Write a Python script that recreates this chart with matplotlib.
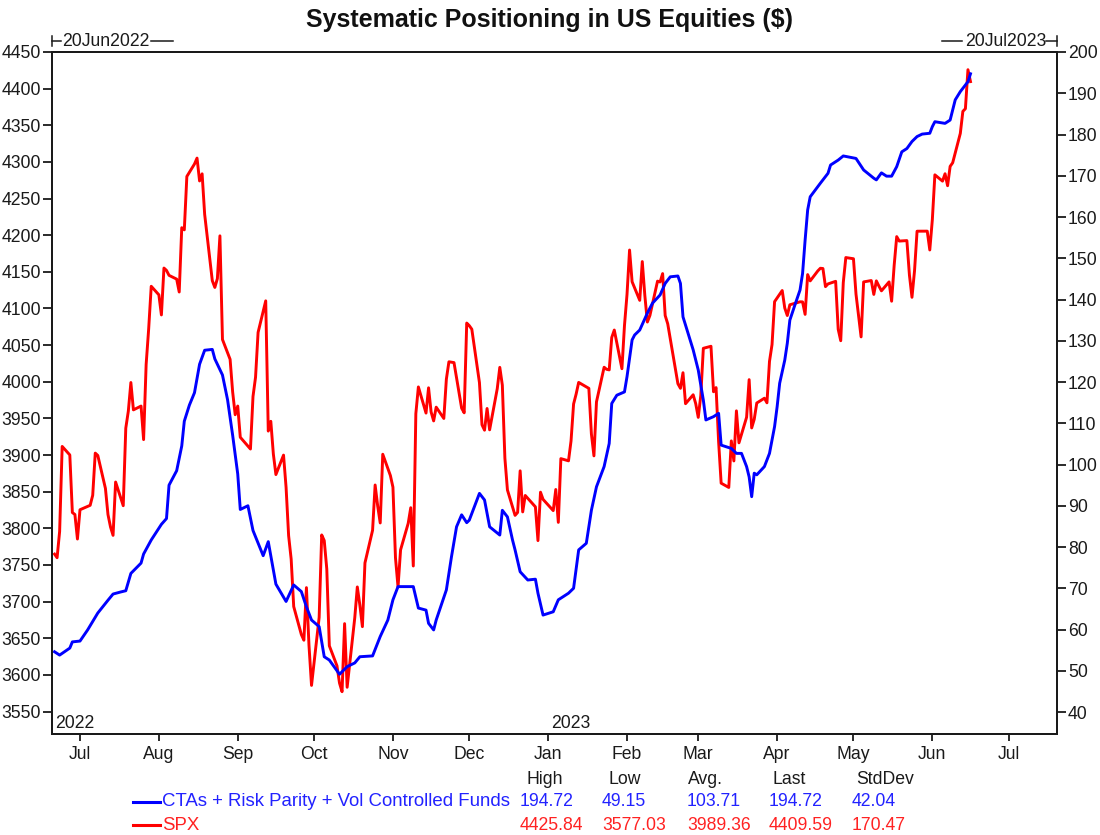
import matplotlib
matplotlib.use("Agg")
import matplotlib.pyplot as plt
import matplotlib.dates as mdates
from matplotlib.lines import Line2D
import numpy as np
import pandas as pd

W, H = 1100, 835

# SPX daily closes, 21 Jun 2022 .. 16 Jun 2023 (one line per month)
spx_close = [
    3764.79, 3759.89, 3795.73, 3911.74, 3900.11, 3821.55, 3818.83, 3785.38,
    3825.33, 3831.39, 3845.08, 3902.62, 3899.38, 3854.43, 3818.80, 3801.78, 3790.38, 3863.16,
    3830.85, 3936.69, 3959.90, 3998.95, 3961.63, 3966.84, 3921.05, 4023.61, 4072.43, 4130.29,
    4118.63, 4091.19, 4155.17, 4151.94, 4145.19, 4140.06, 4122.47, 4210.24, 4207.27, 4280.15,
    4297.14, 4305.20, 4274.04, 4283.74, 4228.48, 4137.99, 4128.73, 4140.77, 4199.12, 4057.66,
    4030.61, 3986.16, 3955.00,
    3966.85, 3924.26, 3908.19, 3979.87, 4006.18, 4067.36, 4110.41, 3932.69, 3946.01, 3901.35,
    3873.33, 3899.89, 3855.93, 3789.93, 3757.99, 3693.23, 3655.04, 3647.29, 3719.04, 3640.47,
    3585.62,
    3678.43, 3790.93, 3783.28, 3744.52, 3639.66, 3612.39, 3588.84, 3577.03, 3669.91, 3583.07,
    3677.95, 3719.98, 3695.16, 3665.78, 3752.75, 3797.34, 3859.11, 3830.60, 3807.30, 3901.06,
    3871.98,
    3856.10, 3759.69, 3719.89, 3770.55, 3806.80, 3828.11, 3748.57, 3956.37, 3992.93, 3957.25,
    3991.73, 3958.79, 3946.56, 3965.34, 3949.94, 4003.58, 4027.26, 4026.12, 3963.94, 3957.63,
    4080.11,
    4076.57, 4071.70, 3998.84, 3941.26, 3933.92, 3963.51, 3934.38, 3990.56, 4019.65, 3995.32,
    3895.75, 3852.36, 3817.66, 3821.62, 3878.44, 3822.39, 3844.82, 3829.25, 3783.22, 3849.28,
    3839.50,
    3824.14, 3852.97, 3808.10, 3895.08, 3892.09, 3919.25, 3969.61, 3983.17, 3999.09, 3990.97,
    3928.86, 3898.85, 3972.61, 4019.81, 4016.95, 4016.22, 4060.43, 4070.56, 4017.77, 4076.60,
    4119.21, 4179.76, 4136.48, 4111.08, 4164.00, 4117.86, 4081.50, 4090.46, 4137.29, 4136.13,
    4147.60, 4090.41, 4079.09, 3997.34, 3991.05, 4012.32, 3970.04, 3982.24, 3970.15,
    3951.39, 3981.35, 4045.64, 4048.42, 3986.37, 3992.01, 3918.32, 3861.59, 3855.76, 3919.29,
    3891.93, 3960.28, 3916.64, 3951.57, 4002.87, 3936.97, 3948.72, 3970.99, 3977.53, 3971.27,
    4027.81, 4050.83, 4109.31,
    4124.51, 4100.60, 4090.38, 4105.02, 4109.11, 4108.94, 4091.95, 4146.22, 4137.64, 4151.32,
    4154.87, 4154.52, 4129.79, 4133.52, 4137.04, 4071.63, 4055.99, 4135.35, 4169.48,
    4167.87, 4119.58, 4090.75, 4061.22, 4136.25, 4138.12, 4119.17, 4137.64, 4130.62, 4124.08,
    4136.28, 4109.90, 4158.77, 4198.05, 4191.98, 4192.63, 4145.58, 4115.24, 4151.28, 4205.45,
    4205.52, 4179.83,
    4221.02, 4282.37, 4273.79, 4283.85, 4267.52, 4293.93, 4298.86, 4338.93, 4369.01, 4372.59,
    4425.84, 4409.59,
]
market_holidays = ["2022-07-04", "2022-09-05", "2022-11-24", "2022-12-26", "2023-01-02",
                   "2023-01-16", "2023-02-20", "2023-04-07", "2023-05-29"]

# CTAs + Risk Parity + Vol Controlled Funds positioning ($bn)
blue_dates = [
    "2022-06-21", "2022-06-23", "2022-06-27", "2022-06-28", "2022-07-01", "2022-07-04",
    "2022-07-08", "2022-07-12", "2022-07-14", "2022-07-17", "2022-07-19", "2022-07-21",
    "2022-07-25", "2022-07-26", "2022-07-29", "2022-08-02", "2022-08-04", "2022-08-05",
    "2022-08-08", "2022-08-10", "2022-08-11", "2022-08-13", "2022-08-15", "2022-08-17",
    "2022-08-19", "2022-08-22", "2022-08-23", "2022-08-26", "2022-08-28", "2022-08-30",
    "2022-09-01", "2022-09-02", "2022-09-05", "2022-09-07", "2022-09-11", "2022-09-13",
    "2022-09-14", "2022-09-16", "2022-09-20", "2022-09-23", "2022-09-26", "2022-09-28",
    "2022-09-30", "2022-10-03", "2022-10-05", "2022-10-07", "2022-10-11", "2022-10-14",
    "2022-10-17", "2022-10-19", "2022-10-24", "2022-10-27", "2022-10-30", "2022-11-01",
    "2022-11-03", "2022-11-09", "2022-11-11", "2022-11-14", "2022-11-15", "2022-11-17",
    "2022-11-18", "2022-11-22", "2022-11-24", "2022-11-26", "2022-11-28", "2022-11-30",
    "2022-12-01", "2022-12-05", "2022-12-07", "2022-12-09", "2022-12-13", "2022-12-14",
    "2022-12-16", "2022-12-18", "2022-12-19", "2022-12-21", "2022-12-24", "2022-12-27",
    "2022-12-28", "2022-12-30", "2023-01-03", "2023-01-05", "2023-01-09", "2023-01-11",
    "2023-01-13", "2023-01-16", "2023-01-18", "2023-01-20", "2023-01-23", "2023-01-25",
    "2023-01-26", "2023-01-28", "2023-01-31", "2023-02-01", "2023-02-03", "2023-02-04",
    "2023-02-06", "2023-02-09", "2023-02-11", "2023-02-14", "2023-02-16", "2023-02-18",
    "2023-02-21", "2023-02-22", "2023-02-23", "2023-02-25", "2023-02-27", "2023-03-01",
    "2023-03-03", "2023-03-04", "2023-03-07", "2023-03-09", "2023-03-10", "2023-03-14",
    "2023-03-16", "2023-03-18", "2023-03-20", "2023-03-21", "2023-03-22", "2023-03-23",
    "2023-03-24", "2023-03-27", "2023-03-29", "2023-03-31", "2023-04-01", "2023-04-02",
    "2023-04-04", "2023-04-05", "2023-04-06", "2023-04-08", "2023-04-10", "2023-04-11",
    "2023-04-12", "2023-04-13", "2023-04-14", "2023-04-18", "2023-04-21", "2023-04-22",
    "2023-04-25", "2023-04-27", "2023-05-02", "2023-05-05", "2023-05-09", "2023-05-10",
    "2023-05-12", "2023-05-14", "2023-05-16", "2023-05-18", "2023-05-20", "2023-05-22",
    "2023-05-24", "2023-05-26", "2023-05-28", "2023-05-31", "2023-06-01", "2023-06-02",
    "2023-06-06", "2023-06-08", "2023-06-10", "2023-06-12", "2023-06-15", "2023-06-16",
]
blue_values = [
    54.6, 53.8, 55.5, 57.0, 57.2, 59.9,
    64.0, 67.1, 68.6, 69.1, 69.4, 73.6,
    76.1, 78.3, 81.7, 85.5, 86.9, 95.0,
    98.5, 104.5, 110.5, 114.4, 117.4, 124.3,
    127.7, 127.9, 125.6, 121.7, 115.7, 107.1,
    97.7, 89.1, 90.0, 84.0, 77.9, 81.3,
    77.9, 71.0, 66.8, 70.8, 69.2, 65.5,
    62.3, 60.7, 53.4, 52.6, 49.15, 51.0,
    51.9, 53.4, 53.6, 58.3, 62.3, 67.2,
    70.4, 70.4, 65.2, 64.7, 61.5, 59.9,
    62.3, 69.6, 77.6, 84.9, 87.8, 85.9,
    86.5, 93.0, 91.4, 84.9, 82.9, 88.9,
    87.3, 81.7, 79.3, 74.0, 72.0, 72.2,
    68.8, 63.5, 64.3, 67.2, 68.8, 70.0,
    79.3, 80.9, 88.9, 94.6, 99.5, 105.1,
    114.8, 116.8, 117.6, 121.3, 130.2, 131.4,
    132.6, 136.7, 139.1, 141.1, 143.9, 145.5,
    145.7, 143.9, 135.8, 131.8, 127.8, 122.9,
    115.6, 110.8, 111.6, 112.4, 104.7, 103.9,
    102.7, 102.7, 99.5, 97.0, 92.2, 97.9,
    97.5, 99.5, 102.7, 109.2, 114.0, 119.7,
    125.3, 129.4, 135.0, 138.7, 142.3, 146.3,
    154.4, 161.7, 164.9, 168.2, 170.6, 172.6,
    173.8, 174.8, 174.2, 171.4, 169.4, 169.0,
    170.7, 169.9, 169.9, 172.2, 175.8, 176.6,
    178.3, 179.5, 180.1, 180.3, 181.9, 183.1,
    182.7, 183.5, 188.4, 190.4, 192.8, 194.72,
]

series_names = ["CTAs + Risk Parity + Vol Controlled Funds", "SPX"]
stat_headers = ["High", "Low", "Avg.", "Last", "StdDev"]
blue_stats = ["194.72", "49.15", "103.71", "194.72", "42.04"]
spx_stats = ["4425.84", "3577.03", "3989.36", "4409.59", "170.47"]

BLUE = "#0000ff"
RED = "#ff0000"
INK = "#1a1a1a"
FS = 12.7

plt.rcParams["font.family"] = ["Liberation Sans", "DejaVu Sans"]


def fx(px):
    return px / W


def fy(py):
    return 1 - py / H


spx_dates = pd.bdate_range("2022-06-21", "2023-06-16")
spx_dates = spx_dates[~spx_dates.isin(pd.to_datetime(market_holidays))]
n = min(len(spx_dates), len(spx_close))

fig = plt.figure(figsize=(W / 100, H / 100), dpi=100)
ax = fig.add_axes([fx(52), fy(734), fx(1057) - fx(52), fy(52) - fy(734)])
ax2 = ax.twinx()

ax.plot(spx_dates[:n], spx_close[:n], color=RED, lw=2.1)
ax2.plot(pd.to_datetime(blue_dates), blue_values, color=BLUE, lw=2.1)

ax.set_xlim(pd.Timestamp("2022-06-20"), pd.Timestamp("2023-07-20"))
ax.set_ylim(3519.3, 4450)
ax2.set_ylim(34.67, 200)
ax.set_yticks(np.arange(3550, 4451, 50))
ax2.set_yticks(np.arange(40, 201, 10))
ax.xaxis.set_major_locator(mdates.MonthLocator())
ax.xaxis.set_major_formatter(mdates.DateFormatter("%b"))

for a in (ax, ax2):
    for sp in a.spines.values():
        sp.set_linewidth(1.4)
        sp.set_color(INK)
    a.tick_params(axis="y", direction="out", length=6.5, width=1.3, pad=1.5,
                  labelsize=FS, colors=INK)
ax.tick_params(axis="x", direction="out", length=5, width=1.3, pad=3.5,
               labelsize=FS, colors=INK)

# year markers inside the plot
for label, day in (("2022", "2022-06-20"), ("2023", "2023-01-01")):
    ax.annotate(label, xy=(mdates.date2num(pd.Timestamp(day)), 0),
                xycoords=ax.get_xaxis_transform(),
                xytext=(2.5, 1.5), textcoords="offset points", ha="left", va="bottom",
                fontsize=FS, color=INK)

# date range brackets above the plot
ylab = 41
for x0, x1 in ((52, 61), (151, 173), (942, 962), (1046, 1057)):
    fig.add_artist(Line2D([fx(x0), fx(x1)], [fy(ylab), fy(ylab)], transform=fig.transFigure,
                          color=INK, lw=1.1))
for xv in (52, 1057):
    fig.add_artist(Line2D([fx(xv), fx(xv)], [fy(36), fy(46)], transform=fig.transFigure,
                          color=INK, lw=1.1))
fig.text(fx(62), fy(ylab), "20Jun2022", ha="left", va="center", fontsize=FS, color=INK)
fig.text(fx(965), fy(ylab), "20Jul2023", ha="left", va="center", fontsize=FS, color=INK)

fig.text(fx(549), fy(20), "Systematic Positioning in US Equities ($)", ha="center", va="center",
         fontsize=18, fontweight="bold", color="#111111")

# legend / statistics table
header_x = [526, 608, 688, 773, 856]
value_x = [520, 602, 687, 769, 852]
for hx, h in zip(header_x, stat_headers):
    fig.text(fx(hx), fy(780), h, ha="left", va="center", fontsize=FS, color=INK)

rows = [(802, BLUE, "#2222ff", series_names[0], blue_stats),
        (825, RED, "#ff2222", series_names[1], spx_stats)]
for ry, lc, tc, name, stats in rows:
    fig.add_artist(Line2D([fx(133), fx(160)], [fy(ry), fy(ry)], transform=fig.transFigure,
                          color=lc, lw=2.2))
    fig.text(fx(162), fy(ry), name, ha="left", va="center", fontsize=13.4, color=tc)
    for vx, s in zip(value_x, stats):
        fig.text(fx(vx), fy(ry), s, ha="left", va="center", fontsize=FS, color=tc)

fig.savefig("out.png", dpi=100, facecolor="white")
